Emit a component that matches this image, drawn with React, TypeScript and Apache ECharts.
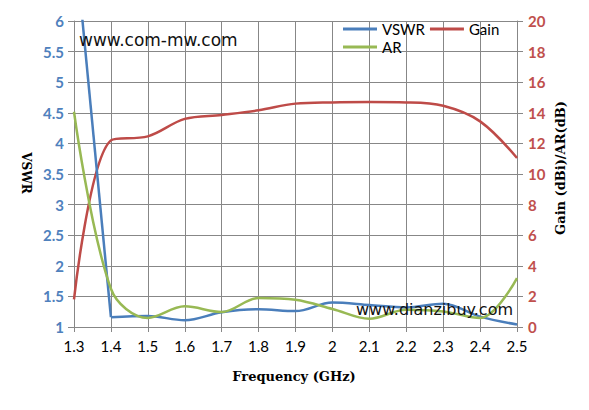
import React, { useEffect, useRef } from "react";
import * as echarts from "echarts";

const freqs = [1.3, 1.4, 1.5, 1.6, 1.7, 1.8, 1.9, 2.0, 2.1, 2.2, 2.3, 2.4, 2.5];
const vswr = [7.45, 1.16, 1.18, 1.11, 1.24, 1.29, 1.26, 1.4, 1.36, 1.32, 1.38, 1.17, 1.04];
const gain = [1.8, 12.2, 12.46, 13.6, 13.86, 14.16, 14.6, 14.68, 14.7, 14.68, 14.46, 13.44, 11.05];
const ar = [14.07, 2.5, 0.59, 1.35, 0.98, 1.9, 1.78, 1.18, 0.54, 1.13, 1.02, 0.59, 3.2];

const seriesNames = ["VSWR", "Gain", "AR"];
const colors = ["#4a7ebb", "#be4b48", "#98b954"];
const xTitle = "Frequency (GHz)";
const leftTitle = "VSWR";
const rightTitle = "Gain (dBi)/AR(dB)";
const watermark1 = "www.com-mw.com";
const watermark2 = "www.dianzibuy.com";

const pairs = (xs: number[], ys: number[]) => xs.map((f, i) => [f, ys[i]]);

export default function App() {
  const ref = useRef<HTMLDivElement>(null);
  useEffect(() => {
    if (!ref.current) return;
    const chart = echarts.init(ref.current, undefined, { renderer: "svg" });
    const gridColor = "#878787";
    const titleFont = { fontFamily: "DejaVu Serif", fontWeight: "bold" as const, fontSize: 13, fill: "#000" };
    const vswrPairs = pairs(freqs, vswr);
    chart.setOption({
      animation: false,
      backgroundColor: "#fff",
      grid: { left: 74, right: 72, top: 21, bottom: 83 },
      legend: [
        {
          data: [seriesNames[0], seriesNames[1]],
          left: 343,
          top: 21,
          icon: "rect",
          itemWidth: 34,
          itemHeight: 3,
          itemGap: 5,
          padding: 0,
          textStyle: { fontFamily: "Lato", fontSize: 15, color: "#000", lineHeight: 16 },
        },
        {
          data: [seriesNames[2]],
          left: 343,
          top: 39,
          icon: "rect",
          itemWidth: 34,
          itemHeight: 3,
          itemGap: 5,
          padding: 0,
          textStyle: { fontFamily: "Lato", fontSize: 15, color: "#000", lineHeight: 16 },
        },
      ],
      xAxis: {
        type: "value",
        min: 1.3,
        max: 2.5,
        interval: 0.1,
        axisLine: { show: true, lineStyle: { color: gridColor } },
        axisTick: { show: true, length: 5, lineStyle: { color: gridColor } },
        splitLine: { show: true, lineStyle: { color: gridColor, width: 1 } },
        axisLabel: {
          margin: 11,
          fontFamily: "Lato",
          fontSize: 15,
          color: "#000",
          formatter: (v: number) => String(parseFloat(v.toFixed(2))),
        },
      },
      yAxis: [
        {
          type: "value",
          min: 1,
          max: 6,
          interval: 0.5,
          axisLine: { show: true, lineStyle: { color: gridColor } },
          axisTick: { show: true, length: 6, lineStyle: { color: gridColor } },
          splitLine: { show: true, lineStyle: { color: gridColor, width: 1 } },
          axisLabel: {
            margin: 10,
            fontFamily: "Lato",
            fontWeight: "bold",
            fontSize: 15,
            color: "#4f81bd",
            formatter: (v: number) => String(parseFloat(v.toFixed(2))),
          },
        },
        {
          type: "value",
          min: 0,
          max: 20,
          interval: 2,
          position: "right",
          axisLine: { show: true, lineStyle: { color: gridColor } },
          axisTick: { show: true, length: 6, lineStyle: { color: gridColor } },
          splitLine: { show: false },
          axisLabel: {
            margin: 11,
            fontFamily: "Lato",
            fontWeight: "bold",
            fontSize: 15,
            color: "#c0504d",
          },
        },
      ],
      series: [
        {
          name: seriesNames[0],
          type: "line",
          yAxisIndex: 0,
          data: vswrPairs.slice(0, 2),
          smooth: false,
          symbol: "none",
          color: colors[0],
          lineStyle: { width: 2.5, color: colors[0] },
          z: 3,
        },
        {
          name: seriesNames[0],
          type: "line",
          yAxisIndex: 0,
          data: vswrPairs.slice(1),
          smooth: 0.35,
          symbol: "none",
          color: colors[0],
          lineStyle: { width: 2.5, color: colors[0] },
          z: 3,
        },
        {
          name: seriesNames[1],
          type: "line",
          yAxisIndex: 1,
          data: pairs(freqs, gain),
          smooth: 0.35,
          symbol: "none",
          color: colors[1],
          lineStyle: { width: 2.5, color: colors[1] },
          z: 2,
        },
        {
          name: seriesNames[2],
          type: "line",
          yAxisIndex: 1,
          data: pairs(freqs, ar),
          smooth: 0.35,
          symbol: "none",
          color: colors[2],
          lineStyle: { width: 2.5, color: colors[2] },
          z: 4,
        },
      ],
      graphic: [
        {
          type: "text",
          x: 79,
          y: 40,
          style: { text: watermark1, fontFamily: "DejaVu Sans", fontSize: 17, fill: "#111", textVerticalAlign: "middle" },
          z: 100,
        },
        {
          type: "text",
          x: 356,
          y: 309,
          style: { text: watermark2, fontFamily: "DejaVu Sans", fontSize: 16, fill: "#111", textVerticalAlign: "middle" },
          z: 100,
        },
        {
          type: "text",
          x: 294,
          y: 376,
          style: { text: xTitle, ...titleFont, textAlign: "center", textVerticalAlign: "middle" },
        },
        {
          type: "text",
          x: 26,
          y: 173,
          rotation: -Math.PI / 2,
          style: { text: leftTitle, ...titleFont, fontSize: 12, textAlign: "center", textVerticalAlign: "middle" },
        },
        {
          type: "text",
          x: 560,
          y: 168,
          rotation: Math.PI / 2,
          style: { text: rightTitle, ...titleFont, textAlign: "center", textVerticalAlign: "middle" },
        },
      ],
    });
    return () => chart.dispose();
  }, []);
  return <div ref={ref} style={{ position: "fixed", left: 0, top: 0, width: 589, height: 410 }} />;
}
